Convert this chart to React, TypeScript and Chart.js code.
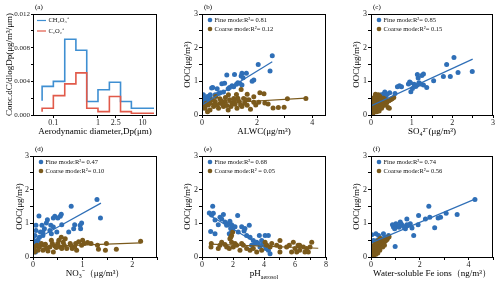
import React, { useEffect, useRef } from 'react';
import { Chart, registerables } from 'chart.js';
Chart.register(...registerables);

const FONT = '"Liberation Serif", "Times New Roman", serif';
const BLUE = '#2f6fb7';
const BROWN = '#7b5a1c';
const STEP_BLUE = '#3f8fd2';
const STEP_RED = '#e15a4a';

type P = [number, number];

// ---------- panel (a) ----------
const sizeEdges = [0.056, 0.1, 0.18, 0.32, 0.56, 1.0, 1.8, 3.2, 5.6, 10, 18];
const ch2o3Conc = [0.0017, 0.0034, 0.0040, 0.0090, 0.0077, 0.0016, 0.0030, 0.0039, 0.0016, 0.0008];
const c2o2Conc = [0.0004, 0.0008, 0.0023, 0.0037, 0.0050, 0.0008, 0.0004, 0.0022, 0.0004, 0.0002];
const sizeTickLabels = [0.1, 1, 2.5, 10];

// ---------- panel (b) ALWC ----------
const alwcFine: P[] = [[2.55,1.76],[2.04,1.5],[2.47,1.31],[1.88,1.04],[1.82,1.0],[1.61,1.24],[1.45,1.24],[1.42,1.16],[1.49,1.11],[1.18,1.2],[0.9,1.19],[0.72,0.93],[0.82,0.94],[0.39,0.82],[0.66,0.66],[0.78,0.68],[1.09,0.87],[1.25,0.91],[1.37,0.94],[1.45,0.89],[1.15,0.84],[1.3,0.96],[1.0,0.82],[0.6,0.64],[0.48,0.6],[0.29,0.55],[0.23,0.45],[0.02,0.55],[0.05,0.6],[0.08,0.5],[0.1,0.45],[0.03,0.4],[0.06,0.35],[0.12,0.4],[0.15,0.5],[0.2,0.55],[0.04,0.3],[0.02,0.25],[0.1,0.3],[0.18,0.35],[0.3,0.6],[0.35,0.8],[0.55,0.78],[0.95,0.78],[0.01,0.2],[0.07,0.22]];
const alwcCoarse: P[] = [[3.77,0.49],[3.1,0.48],[2.98,0.23],[2.77,0.22],[2.58,0.21],[2.1,0.66],[2.25,0.63],[2.28,0.36],[1.88,0.38],[1.76,0.17],[1.64,0.29],[1.42,0.76],[1.25,0.61],[0.96,0.6],[1.15,0.49],[1.51,0.49],[1.88,0.54],[1.09,0.35],[0.84,0.4],[0.66,0.35],[0.48,0.4],[0.42,0.25],[0.23,0.3],[0.11,0.2],[0.29,0.15],[0.6,0.2],[0.78,0.25],[1.27,0.2],[1.45,0.25],[1.7,0.45],[2.06,0.38],[1.64,0.62],[0.3,0.35],[0.55,0.3],[0.7,0.42],[0.9,0.28],[1.0,0.45],[1.2,0.32],[1.35,0.4],[1.55,0.35],[0.15,0.35],[0.05,0.28],[0.38,0.45],[0.85,0.52],[1.05,0.25],[1.3,0.5],[1.6,0.45],[1.95,0.3],[0.2,0.1],[0.5,0.55],[0.75,0.32],[1.4,0.3],[2.4,0.33],[0.65,0.48],[0.45,0.3],[0.95,0.15],[1.18,0.42]];
const alwcFineFit: P[] = [[0, 0.3], [2.55, 1.58]];
const alwcCoarseFit: P[] = [[0, 0.32], [3.77, 0.5]];

// ---------- panel (c) SO4 ----------
const so4Fine: P[] = [[2.04,1.71],[1.86,1.5],[2.49,1.29],[2.14,1.26],[1.95,1.14],[1.78,1.14],[1.54,1.02],[1.29,1.22],[1.25,1.17],[1.14,1.2],[1.16,1.1],[1.18,0.96],[1.37,0.82],[1.29,0.89],[1.14,0.89],[1.06,0.91],[0.97,0.96],[0.95,0.98],[1.02,0.79],[0.98,0.69],[0.92,0.92],[0.75,0.84],[0.7,0.87],[0.65,0.84],[0.59,0.64],[0.46,0.66],[0.4,0.62],[0.34,0.68],[0.32,0.63],[0.36,0.56],[0.28,0.49],[0.2,0.44],[0.11,0.39],[0.07,0.3],[0.03,0.25],[0.05,0.35],[0.02,0.45],[0.15,0.5],[0.25,0.6],[0.1,0.2],[0.04,0.15],[1.1,0.85],[1.22,0.92]];
const so4Coarse: P[] = [[0.01,0.02],[0.02,0.08],[0.03,0.12],[0.05,0.05],[0.06,0.18],[0.08,0.1],[0.09,0.22],[0.1,0.3],[0.12,0.15],[0.12,0.26],[0.13,0.35],[0.15,0.2],[0.15,0.42],[0.16,0.5],[0.17,0.28],[0.18,0.6],[0.19,0.36],[0.2,0.45],[0.21,0.25],[0.22,0.55],[0.23,0.38],[0.24,0.3],[0.25,0.48],[0.26,0.2],[0.28,0.42],[0.29,0.35],[0.3,0.28],[0.31,0.5],[0.33,0.38],[0.35,0.3],[0.36,0.45],[0.38,0.35],[0.4,0.4],[0.42,0.22],[0.44,0.42],[0.45,0.2],[0.48,0.45],[0.52,0.48],[0.56,0.52],[0.04,0.3],[0.06,0.4],[0.08,0.48],[0.1,0.55],[0.03,0.2],[0.07,0.35],[0.14,0.1],[0.2,0.12],[0.11,0.62],[0.02,0.5],[0.05,0.25]];
const so4FineFit: P[] = [[0, 0.27], [2.5, 1.66]];
const so4CoarseFit: P[] = [[0, 0.15], [0.56, 0.48]];

// ---------- panel (d) NO3 ----------
const no3Fine: P[] = [[1.29,1.71],[1.36,1.16],[0.77,1.51],[0.57,1.27],[0.55,1.21],[0.44,1.21],[0.41,1.16],[0.5,1.16],[0.29,1.11],[0.12,1.22],[0.27,1.01],[0.36,0.94],[0.41,0.89],[0.18,0.94],[0.06,0.94],[0.23,0.84],[0.2,0.74],[0.58,0.96],[0.84,0.96],[0.98,1.01],[0.95,0.94],[0.82,0.84],[0.96,0.84],[0.72,0.74],[0.34,0.79],[0.13,0.59],[0.1,0.49],[0.03,0.44],[0.01,0.3],[0.04,0.64],[0.06,0.79],[0.0,0.54],[0.2,0.64],[0.15,0.74],[0.37,0.69],[0.48,0.74],[0.02,0.2],[0.05,0.15],[0.08,0.38]];
const no3Coarse: P[] = [[2.17,0.47],[1.68,0.23],[1.46,0.2],[1.48,0.4],[1.32,0.23],[1.3,0.35],[1.17,0.4],[1.1,0.43],[1.03,0.4],[0.98,0.35],[0.88,0.2],[0.84,0.3],[0.79,0.25],[0.75,0.4],[0.65,0.54],[0.61,0.44],[0.57,0.59],[0.55,0.3],[0.5,0.4],[0.44,0.33],[0.39,0.4],[0.34,0.3],[0.3,0.18],[0.27,0.25],[0.22,0.35],[0.17,0.4],[0.13,0.3],[0.1,0.2],[0.06,0.32],[0.03,0.15],[0.01,0.25],[0.68,0.25],[0.92,0.45],[0.37,0.5],[0.2,0.2],[0.41,0.15],[0.52,0.5],[1.0,0.5],[0.76,0.35],[0.58,0.25],[0.86,0.4],[0.25,0.38],[0.47,0.28],[0.63,0.35],[0.08,0.35]];
const no3FineFit: P[] = [[0, 0.48], [1.37, 1.6]];
const no3CoarseFit: P[] = [[0, 0.3], [2.17, 0.42]];

// ---------- panel (e) pH ----------
const phFine: P[] = [[0.69,1.51],[0.47,1.31],[0.73,1.3],[0.62,1.25],[1.16,1.18],[1.38,1.26],[1.27,1.13],[1.48,1.04],[1.7,0.99],[1.91,0.96],[2.02,0.9],[1.98,0.83],[1.85,0.85],[2.3,1.23],[2.56,0.9],[2.77,0.85],[3.05,0.94],[2.71,0.77],[2.88,0.64],[3.1,0.59],[3.31,0.49],[3.7,0.64],[4.07,0.64],[4.28,0.64],[3.85,0.49],[3.53,0.44],[3.42,0.4],[4.17,0.35],[4.28,0.2],[4.39,0.1],[4.13,0.25],[3.74,0.3],[3.2,0.35],[0.56,0.76],[0.84,0.69],[1.05,0.96],[1.76,0.69],[1.91,0.74],[2.13,0.9],[2.34,0.74],[1.59,0.94],[1.8,1.06],[0.84,1.1],[3.91,0.37],[3.63,0.4]];
const phCoarse: P[] = [[0.6,0.4],[0.58,0.3],[1.16,0.35],[1.27,0.44],[1.48,0.37],[1.59,0.3],[1.8,0.54],[1.91,0.64],[1.91,0.44],[2.02,0.3],[2.13,0.4],[2.24,0.35],[2.56,0.4],[2.67,0.35],[2.88,0.25],[3.1,0.2],[3.31,0.25],[3.53,0.15],[3.85,0.2],[4.07,0.44],[4.17,0.35],[4.39,0.3],[4.5,0.4],[5.03,0.49],[5.03,0.3],[5.03,0.15],[5.46,0.3],[5.89,0.44],[6.0,0.25],[6.11,0.15],[6.2,0.35],[6.3,0.2],[6.54,0.3],[6.75,0.25],[6.86,0.15],[7.08,0.44],[6.97,0.3],[1.05,0.25],[1.76,0.25],[2.45,0.2],[1.98,0.74],[1.85,0.59],[4.82,0.35],[5.63,0.35],[6.3,0.35],[6.64,0.15],[5.78,0.15]];
const phFineFit: P[] = [[0.45, 1.25], [4.4, 0.18]];
const phCoarseFit: P[] = [[0.5, 0.38], [7.5, 0.26]];

// ---------- panel (f) Fe ----------
const feFine: P[] = [[4.26,1.71],[2.37,1.51],[3.53,1.26],[3.08,1.3],[2.85,1.18],[2.75,1.16],[2.41,1.18],[1.95,1.23],[2.23,1.13],[1.93,0.96],[1.75,0.64],[2.61,0.87],[1.47,1.13],[1.61,0.99],[1.52,0.94],[1.27,0.94],[1.2,1.04],[1.24,0.98],[1.06,0.94],[0.99,0.91],[0.92,0.89],[0.88,0.96],[0.97,0.84],[1.02,0.99],[1.41,0.84],[1.68,0.86],[1.47,0.96],[0.99,0.31],[0.51,0.69],[0.31,0.64],[0.2,0.69],[0.03,0.66],[0.24,0.49],[0.38,0.52],[0.17,0.39],[0.1,0.49],[0.45,0.54],[0.58,0.59],[0.72,0.64],[1.15,0.88],[1.35,0.9],[0.05,0.3],[0.12,0.25]];
const feCoarse: P[] = [[0.02,0.02],[0.04,0.08],[0.05,0.15],[0.07,0.05],[0.08,0.12],[0.1,0.2],[0.12,0.1],[0.13,0.25],[0.15,0.18],[0.17,0.3],[0.18,0.12],[0.2,0.22],[0.22,0.32],[0.24,0.18],[0.25,0.28],[0.27,0.38],[0.28,0.22],[0.3,0.3],[0.32,0.4],[0.34,0.27],[0.35,0.35],[0.37,0.42],[0.4,0.33],[0.42,0.45],[0.44,0.38],[0.46,0.48],[0.5,0.42],[0.52,0.5],[0.55,0.45],[0.58,0.52],[0.6,0.48],[0.63,0.55],[0.66,0.52],[0.7,0.58],[0.74,0.6],[0.03,0.25],[0.06,0.3],[0.09,0.32],[0.15,0.38],[0.2,0.42],[0.26,0.45],[0.32,0.5],[0.38,0.55],[0.12,0.05],[0.2,0.08],[0.28,0.12],[0.36,0.2],[0.48,0.3],[0.01,0.15],[0.55,0.35]];
const feFineFit: P[] = [[0, 0.42], [4.26, 1.72]];
const feCoarseFit: P[] = [[0, 0.1], [0.8, 0.62]];

// ---------- geometry ----------
interface Geo { left: number; top: number; width: number; height: number; yWidth: number; rightPad: number; yTitlePad: number; }
const ROW_H = 142;
const TOP_PAD = 14;
const X_H = 27;

const isMult = (v: number, s: number) => Math.abs(v / s - Math.round(v / s)) < 1e-6;

const tickFont = { size: 8, family: FONT };
const titleFont = { size: 9, family: FONT };

function framePlugin(label: string, legend: (ctx: CanvasRenderingContext2D, a: any) => void, extra?: (chart: any) => void) {
  return {
    id: 'frame_' + label,
    afterDraw(chart: any) {
      const { ctx, chartArea: a } = chart;
      ctx.save();
      ctx.strokeStyle = '#000';
      ctx.lineWidth = 1;
      ctx.strokeRect(Math.round(a.left) + 0.5, Math.round(a.top) + 0.5, Math.round(a.right - a.left) - 1, Math.round(a.bottom - a.top));
      ctx.fillStyle = '#000';
      ctx.font = `7px ${FONT}`;
      ctx.textBaseline = 'middle';
      ctx.textAlign = 'left';
      ctx.fillText(label, a.left + 2, 7);
      legend(ctx, a);
      if (extra) extra(chart);
      ctx.restore();
    },
  };
}

function scatterLegend(fineTxt: string, coarseTxt: string) {
  return (ctx: CanvasRenderingContext2D, a: any) => {
    const rows: [string, string][] = [[BLUE, fineTxt], [BROWN, coarseTxt]];
    rows.forEach(([c, t], i) => {
      const y = a.top + 6 + i * 9;
      ctx.fillStyle = c;
      ctx.beginPath();
      ctx.arc(a.left + 8, y, 2.3, 0, Math.PI * 2);
      ctx.fill();
      ctx.fillStyle = '#111';
      ctx.font = `6.5px ${FONT}`;
      ctx.textBaseline = 'middle';
      ctx.fillText(t, a.left + 12.5, y + 0.5);
    });
  };
}

interface Spec {
  label: string; xMax: number; xStep: number; xLabelStep: number; xTitle: string;
  fine: P[]; coarse: P[]; fineFit: P[]; coarseFit: P[]; fineTxt: string; coarseTxt: string; phTitle?: boolean;
}

function scatterConfig(s: Spec, g: Geo): any {
  const toXY = (arr: P[]) => arr.map(([x, y]) => ({ x, y }));
  const extra = s.phTitle
    ? (chart: any) => {
        const { ctx, chartArea: a } = chart;
        const cx = (a.left + a.right) / 2;
        const y = 132;
        ctx.fillStyle = '#000';
        ctx.textBaseline = 'middle';
        ctx.font = `9px ${FONT}`;
        const w1 = ctx.measureText('pH').width;
        ctx.font = `6px ${FONT}`;
        const w2 = ctx.measureText('aerosol').width;
        const x0 = cx - (w1 + w2) / 2;
        ctx.font = `9px ${FONT}`;
        ctx.fillText('pH', x0, y);
        ctx.font = `6px ${FONT}`;
        ctx.fillText('aerosol', x0 + w1, y + 3);
      }
    : undefined;
  return {
    type: 'scatter',
    data: {
      datasets: [
        { data: toXY(s.fineFit), showLine: true, borderColor: BLUE, borderWidth: 1.2, pointRadius: 0, fill: false },
        { data: toXY(s.coarseFit), showLine: true, borderColor: BROWN, borderWidth: 1.2, pointRadius: 0, fill: false },
        { data: toXY(s.coarse), backgroundColor: BROWN, borderColor: BROWN, borderWidth: 0, pointRadius: 2.5 },
        { data: toXY(s.fine), backgroundColor: BLUE, borderColor: BLUE, borderWidth: 0, pointRadius: 2.5 },
      ],
    },
    options: {
      responsive: false,
      animation: false,
      devicePixelRatio: 1,
      layout: { padding: { left: 0, top: TOP_PAD, right: g.rightPad, bottom: 0 } },
      plugins: { legend: { display: false }, tooltip: { enabled: false } },
      scales: {
        x: {
          type: 'linear', position: 'bottom', min: 0, max: s.xMax,
          ticks: {
            stepSize: s.xStep, includeBounds: false, autoSkip: false, maxRotation: 0, padding: 0.5,
            font: tickFont, color: '#222',
            callback: (v: number) => (isMult(v, s.xLabelStep) ? String(Math.round(v * 10) / 10) : ''),
          },
          grid: { drawOnChartArea: false, drawTicks: true, tickLength: 3, color: '#000' },
          border: { display: false },
          title: { display: !s.phTitle, text: s.xTitle, font: titleFont, color: '#000', padding: { top: 0, bottom: 4.6 } },
          afterFit: (sc: any) => { sc.height = X_H; },
        },
        y: {
          type: 'linear', position: 'left', min: 0, max: 3,
          ticks: {
            stepSize: 0.5, includeBounds: false, autoSkip: false, padding: 1,
            font: tickFont, color: '#222',
            callback: (v: number) => (isMult(v, 1) ? String(Math.round(v)) : ''),
          },
          grid: { drawOnChartArea: false, drawTicks: true, tickLength: 3, color: '#000' },
          border: { display: false },
          title: { display: true, text: 'OOC(μg/m³)', font: titleFont, color: '#000', padding: { top: g.yTitlePad, bottom: 0 } },
          afterFit: (sc: any) => { sc.width = g.yWidth; },
        },
      },
    },
    plugins: [framePlugin(s.label, scatterLegend(s.fineTxt, s.coarseTxt), extra)],
  };
}

function sizeConfig(g: Geo): any {
  const steps = (vals: number[]) => sizeEdges.map((e, i) => ({ x: e, y: vals[Math.min(i, vals.length - 1)] }));
  const legend = (ctx: CanvasRenderingContext2D, a: any) => {
    const rows: [string, string][] = [[STEP_BLUE, 'CH₂O₃⁺'], [STEP_RED, 'C₂O₂⁺']];
    rows.forEach(([c, t], i) => {
      const y = a.top + 6.5 + i * 10.5;
      ctx.strokeStyle = c;
      ctx.lineWidth = 1.2;
      ctx.beginPath();
      ctx.moveTo(a.left + 4, y);
      ctx.lineTo(a.left + 13, y);
      ctx.stroke();
      ctx.fillStyle = '#111';
      ctx.font = `6.5px ${FONT}`;
      ctx.textBaseline = 'middle';
      ctx.fillText(t, a.left + 15.5, y);
    });
  };
  return {
    type: 'scatter',
    data: {
      datasets: [
        { data: steps(c2o2Conc), showLine: true, stepped: 'after', borderColor: STEP_RED, borderWidth: 1.6, pointRadius: 0, fill: false },
        { data: steps(ch2o3Conc), showLine: true, stepped: 'after', borderColor: STEP_BLUE, borderWidth: 1.6, pointRadius: 0, fill: false },
      ],
    },
    options: {
      responsive: false,
      animation: false,
      devicePixelRatio: 1,
      layout: { padding: { left: 0, top: TOP_PAD, right: g.rightPad, bottom: 0 } },
      plugins: { legend: { display: false }, tooltip: { enabled: false } },
      scales: {
        x: {
          type: 'logarithmic', position: 'bottom', min: 0.035, max: 21,
          afterBuildTicks: (sc: any) => { sc.ticks = sizeTickLabels.map((v) => ({ value: v })); },
          ticks: { autoSkip: false, maxRotation: 0, padding: 0.5, font: tickFont, color: '#222', callback: (v: number) => String(v) },
          grid: { drawOnChartArea: false, drawTicks: true, tickLength: 3, color: '#000' },
          border: { display: false },
          title: { display: true, text: 'Aerodynamic diameter,Dp(μm)', font: titleFont, color: '#000', padding: { top: 0, bottom: 4.6 } },
          afterFit: (sc: any) => { sc.height = X_H; },
        },
        y: {
          type: 'linear', position: 'left', min: 0, max: 0.012,
          ticks: {
            stepSize: 0.002, includeBounds: false, autoSkip: false, padding: 1, font: { size: 7, family: FONT }, color: '#222',
            callback: (v: number) => (isMult(v, 0.004) ? v.toFixed(3) : ''),
          },
          grid: { drawOnChartArea: false, drawTicks: true, tickLength: 2, color: '#000' },
          border: { display: false },
          title: { display: true, text: 'Conc.dC/dlogDp(μg/m³/μm)', font: titleFont, color: '#000', padding: { top: g.yTitlePad, bottom: 0 } },
          afterFit: (sc: any) => { sc.width = g.yWidth; },
        },
      },
    },
    plugins: [framePlugin('(a)', legend)],
  };
}

const COLS = [
  { left: 0, width: 165, yWidth: 33, rightPad: 8 },
  { left: 165, width: 165, yWidth: 37, rightPad: 4 },
  { left: 330, width: 170, yWidth: 41, rightPad: 7 },
];

function geo(col: number, row: number, yTitlePad: number): Geo {
  const c = COLS[col];
  return { left: c.left, top: row * ROW_H, width: c.width, height: ROW_H, yWidth: c.yWidth, rightPad: c.rightPad, yTitlePad };
}

function Panel({ g, make }: { g: Geo; make: () => any }) {
  const ref = useRef<HTMLCanvasElement>(null);
  useEffect(() => {
    const chart = new Chart(ref.current as HTMLCanvasElement, make());
    return () => chart.destroy();
  }, []);
  return (
    <canvas
      ref={ref}
      width={g.width}
      height={g.height}
      style={{ position: 'absolute', left: g.left, top: g.top, width: g.width, height: g.height }}
    />
  );
}

export default function App() {
  useEffect(() => {
    document.body.style.margin = '0';
    document.body.style.background = '#fff';
  }, []);
  const gA = geo(0, 0, 4.6);
  const gB = geo(1, 0, 17.6);
  const gC = geo(2, 0, 21.6);
  const gD = geo(0, 1, 14.6);
  const gE = geo(1, 1, 17.6);
  const gF = geo(2, 1, 21.6);
  return (
    <div style={{ position: 'relative', width: 500, height: 284, background: '#fff', overflow: 'hidden' }}>
      <Panel g={gA} make={() => sizeConfig(gA)} />
      <Panel g={gB} make={() => scatterConfig({ label: '(b)', xMax: 4.5, xStep: 1, xLabelStep: 2, xTitle: 'ALWC(μg/m³)', fine: alwcFine, coarse: alwcCoarse, fineFit: alwcFineFit, coarseFit: alwcCoarseFit, fineTxt: 'Fine mode:R²= 0.81', coarseTxt: 'Coarse mode:R²= 0.12' }, gB)} />
      <Panel g={gC} make={() => scatterConfig({ label: '(c)', xMax: 3, xStep: 0.5, xLabelStep: 1, xTitle: 'SO₄²⁻(μg/m³)', fine: so4Fine, coarse: so4Coarse, fineFit: so4FineFit, coarseFit: so4CoarseFit, fineTxt: 'Fine mode:R²= 0.85', coarseTxt: 'Coarse mode:R²= 0.15' }, gC)} />
      <Panel g={gD} make={() => scatterConfig({ label: '(d)', xMax: 2.5, xStep: 0.5, xLabelStep: 1, xTitle: 'NO₃⁻（μg/m³）', fine: no3Fine, coarse: no3Coarse, fineFit: no3FineFit, coarseFit: no3CoarseFit, fineTxt: 'Fine mode:R²= 0.47', coarseTxt: 'Coarse mode:R²= 0.10' }, gD)} />
      <Panel g={gE} make={() => scatterConfig({ label: '(e)', xMax: 8, xStep: 1, xLabelStep: 2, xTitle: 'pH aerosol', fine: phFine, coarse: phCoarse, fineFit: phFineFit, coarseFit: phCoarseFit, fineTxt: 'Fine mode:R²= 0.68', coarseTxt: 'Coarse mode:R² = 0.05', phTitle: true }, gE)} />
      <Panel g={gF} make={() => scatterConfig({ label: '(f)', xMax: 5, xStep: 1, xLabelStep: 2, xTitle: 'Water-soluble Fe ions（ng/m³）', fine: feFine, coarse: feCoarse, fineFit: feFineFit, coarseFit: feCoarseFit, fineTxt: 'Fine mode:R²= 0.74', coarseTxt: 'Coarse mode:R²= 0.56' }, gF)} />
    </div>
  );
}
